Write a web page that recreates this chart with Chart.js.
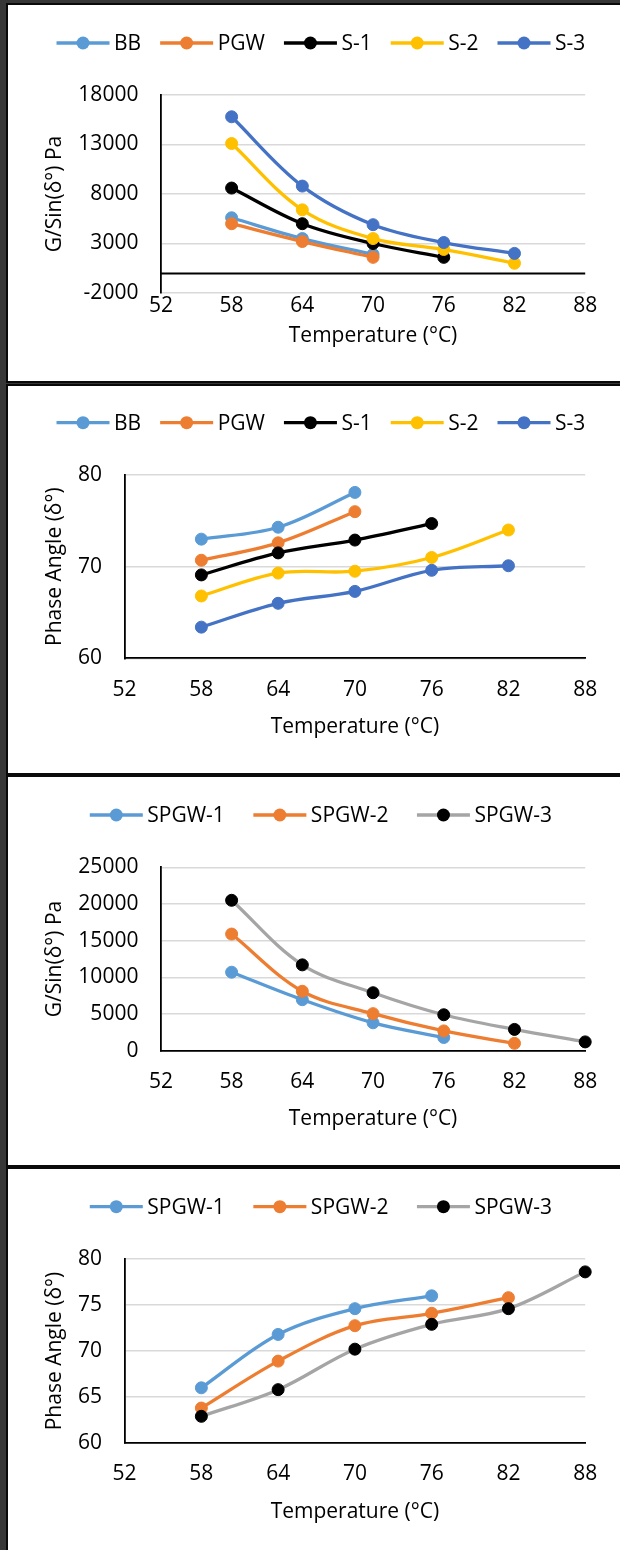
<!DOCTYPE html>
<html>
<head>
<meta charset="utf-8">
<script src="https://cdn.jsdelivr.net/npm/chart.js@4.4.1/dist/chart.umd.min.js"></script>
<style>
  html, body { margin: 0; padding: 0; }
  body { width: 620px; height: 1550px; background: #373737; position: relative; overflow: hidden; }
  .panel { position: absolute; left: 6px; width: 620px; background: #fff; border: 2px solid #0a0a0a; overflow: hidden; }
  .panel canvas { position: absolute; left: 0; top: 0; }
</style>
</head>
<body>
<div class="panel" style="top:3px;height:376px;"><canvas id="c1" width="612" height="376"></canvas></div>
<div class="panel" style="top:384px;height:387px;"><canvas id="c2" width="612" height="387"></canvas></div>
<div class="panel" style="top:775px;height:388px;"><canvas id="c3" width="612" height="388"></canvas></div>
<div class="panel" style="top:1167px;height:400px;"><canvas id="c4" width="612" height="381"></canvas></div>
<script>
// ---------- data ----------
const temps = [58, 64, 70, 76, 82, 88];
const xTicks = [52, 58, 64, 70, 76, 82, 88];

const labels1 = ['BB', 'PGW', 'S-1', 'S-2', 'S-3'];
const gBB  = [5600, 3500, 1900];
const gPGW = [5000, 3200, 1600];
const gS1  = [8600, 5000, 3000, 1600];
const gS2  = [13100, 6400, 3500, 2400, 1000];
const gS3  = [15800, 8800, 4900, 3100, 2000];
const yTicks1 = [-2000, 3000, 8000, 13000, 18000];

const pBB  = [73.0, 74.3, 78.1];
const pPGW = [70.7, 72.6, 76.0];
const pS1  = [69.1, 71.5, 72.9, 74.7];
const pS2  = [66.8, 69.3, 69.5, 71.0, 74.0];
const pS3  = [63.4, 66.0, 67.3, 69.6, 70.1];
const yTicks2 = [60, 70, 80];

const labels2 = ['SPGW-1', 'SPGW-2', 'SPGW-3'];
const gSP1 = [10700, 6950, 3800, 1800];
const gSP2 = [15900, 8100, 5050, 2700, 1000];
const gSP3 = [20500, 11700, 7900, 4900, 2900, 1200];
const yTicks3 = [0, 5000, 10000, 15000, 20000, 25000];

const pSP1 = [66.0, 71.8, 74.6, 76.0];
const pSP2 = [63.8, 68.9, 72.75, 74.1, 75.8];
const pSP3 = [62.9, 65.8, 70.2, 72.9, 74.6, 78.6];
const yTicks4 = [60, 65, 70, 75, 80];

// ---------- styles ----------
const FONT = '"Open Sans", "Noto Sans", sans-serif';
const FS = 21;
const TEXT = '#000000';
const GRID = '#d9d9d9';
const lineColors1 = ['#5B9BD5', '#ED7D31', '#000000', '#FFC000', '#4472C4'];
const markColors1 = ['#5B9BD5', '#ED7D31', '#000000', '#FFC000', '#4472C4'];
const lineColors2 = ['#5B9BD5', '#ED7D31', '#A5A5A5'];
const markColors2 = ['#5B9BD5', '#ED7D31', '#000000'];

function series(label, values, lineColor, markColor, idx, n) {
  return {
    label: label,
    data: values.map((v, i) => ({ x: temps[i], y: v })),
    borderColor: lineColor,
    backgroundColor: markColor,
    pointBackgroundColor: markColor,
    pointBorderColor: markColor,
    pointBorderWidth: 1,
    pointRadius: 6,
    borderWidth: 3.3,
    tension: 0.35,
    clip: false,
    order: n - idx
  };
}

const lineLegend = {
  id: 'lineLegend',
  afterDraw(chart, args, opts) {
    const ctx = chart.ctx;
    ctx.save();
    ctx.font = FS + 'px ' + FONT;
    const items = chart.data.datasets.map(ds => ({ ds, w: ctx.measureText(ds.label).width }));
    const seg = 53, tg = 4.5;
    const total = items.reduce((a, it) => a + seg + tg + it.w, 0) + opts.gap * (items.length - 1);
    let x = opts.centerX - total / 2;
    const y = opts.y;
    items.forEach(it => {
      ctx.strokeStyle = it.ds.borderColor;
      ctx.lineWidth = it.ds.borderWidth;
      ctx.beginPath(); ctx.moveTo(x, y); ctx.lineTo(x + seg, y); ctx.stroke();
      ctx.fillStyle = it.ds.pointBackgroundColor;
      ctx.beginPath(); ctx.arc(x + seg / 2, y, it.ds.pointRadius + 0.5, 0, Math.PI * 2); ctx.fill();
      ctx.fillStyle = TEXT;
      ctx.textBaseline = 'middle';
      ctx.textAlign = 'left';
      ctx.fillText(it.ds.label, x + seg + tg, y + 1);
      x += seg + tg + it.w + opts.gap;
    });
    ctx.restore();
  }
};

const zeroLine = {
  id: 'zeroLine',
  beforeDatasetsDraw(chart, args, opts) {
    if (!opts || !opts.show) return;
    const ctx = chart.ctx, y = Math.round(chart.scales.y.getPixelForValue(0)) + 0.5;
    ctx.save();
    ctx.strokeStyle = '#000';
    ctx.lineWidth = 1.8;
    ctx.beginPath(); ctx.moveTo(chart.chartArea.left, y); ctx.lineTo(chart.chartArea.right, y); ctx.stroke();
    ctx.restore();
  }
};

function makeChart(id, p) {
  new Chart(document.getElementById(id), {
    type: 'line',
    data: { datasets: p.datasets },
    plugins: [zeroLine, lineLegend],
    options: {
      responsive: false,
      animation: false,
      events: [],
      layout: { padding: { top: p.top, left: 0, right: 612 - p.right, bottom: p.pb } },
      plugins: {
        legend: { display: false },
        tooltip: { enabled: false },
        lineLegend: { centerX: 312.9, y: p.legendY, gap: p.gap },
        zeroLine: { show: !!p.zero }
      },
      scales: {
        x: {
          type: 'linear', min: 52, max: 88,
          afterBuildTicks: s => { s.ticks = xTicks.map(v => ({ value: v })); },
          afterFit: s => { s.height = p.hx; },
          grid: { display: false, drawTicks: false },
          border: { display: !p.zero, color: '#000', width: 1.8 },
          ticks: { padding: p.xpad, color: TEXT, font: { family: FONT, size: FS }, maxRotation: 0, autoSkip: false, callback: v => String(v) },
          title: { display: true, text: 'Temperature (°C)', color: TEXT, font: { family: FONT, size: FS }, padding: 0 }
        },
        y: {
          type: 'linear', min: p.ymin, max: p.ymax,
          afterBuildTicks: s => { s.ticks = p.yTicks.map(v => ({ value: v })); },
          afterFit: s => { s.width = p.left; },
          grid: { color: GRID, lineWidth: 1.5, drawTicks: false },
          border: { display: true, color: '#000', width: 1.8 },
          ticks: { padding: 22.5, color: TEXT, font: { family: FONT, size: FS }, autoSkip: false, callback: v => String(v) },
          title: { display: true, text: p.ytitle, color: TEXT, font: { family: FONT, size: FS }, padding: { top: 34.8, bottom: 0 } }
        }
      }
    }
  });
}

makeChart('c1', {
  datasets: [gBB, gPGW, gS1, gS2, gS3].map((v, i) => series(labels1[i], v, lineColors1[i], markColors1[i], i, 5)),
  top: 90, right: 577.2, left: 152.9, pb: 32.4, hx: 55.6, xpad: 0, legendY: 38, gap: 19,
  ymin: -2000, ymax: 18000, yTicks: yTicks1, ytitle: 'G/Sin(δ°) Pa', zero: true
});
makeChart('c2', {
  datasets: [pBB, pPGW, pS1, pS2, pS3].map((v, i) => series(labels1[i], v, lineColors1[i], markColors1[i], i, 5)),
  top: 89, right: 577.2, left: 116.6, pb: 33.1, hx: 81.6, xpad: 19.1, legendY: 36.7, gap: 19,
  ymin: 60, ymax: 80, yTicks: yTicks2, ytitle: 'Phase Angle (δ°)'
});
makeChart('c3', {
  datasets: [gSP1, gSP2, gSP3].map((v, i) => series(labels2[i], v, lineColors2[i], markColors2[i], i, 3)),
  top: 90.3, right: 577.2, left: 152.9, pb: 33.4, hx: 80.9, xpad: 19, legendY: 38, gap: 28.5,
  ymin: 0, ymax: 25000, yTicks: yTicks3, ytitle: 'G/Sin(δ°) Pa'
});
makeChart('c4', {
  datasets: [pSP1, pSP2, pSP3].map((v, i) => series(labels2[i], v, lineColors2[i], markColors2[i], i, 3)),
  top: 90, right: 577.2, left: 116.6, pb: 25.7, hx: 81.3, xpad: 18.4, legendY: 37.7, gap: 28.5,
  ymin: 60, ymax: 80, yTicks: yTicks4, ytitle: 'Phase Angle (δ°)'
});
</script>
</body>
</html>
